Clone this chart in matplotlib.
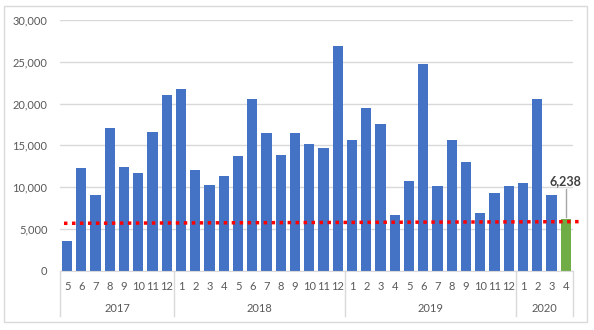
import matplotlib.pyplot as plt
from matplotlib.patches import Rectangle
import numpy as np

# monthly totals, May 2017 .. Apr 2020
years = ["2017", "2018", "2019", "2020"]
months_per_year = [8, 12, 12, 4]
months = ["5", "6", "7", "8", "9", "10", "11", "12",
          "1", "2", "3", "4", "5", "6", "7", "8", "9", "10", "11", "12",
          "1", "2", "3", "4", "5", "6", "7", "8", "9", "10", "11", "12",
          "1", "2", "3", "4"]
values = [3600, 12300, 9050, 17100, 12400, 11750, 16600, 21000,
          21800, 12000, 10250, 11350, 13750, 20600, 16450, 13900, 16450, 15200, 14700, 26850,
          15600, 19450, 17500, 6700, 10700, 24700, 10150, 15600, 12950, 6900, 9300, 10150,
          10550, 20550, 9050, 6238]
trend_start, trend_end = 5670, 5870

BLUE = "#4472C4"
GREEN = "#70AD47"
GRID = "#D9D9D9"
TXT = "#595959"

plt.rcParams['font.family'] = ['Lato', 'DejaVu Sans']

fig = plt.figure(figsize=(5.94, 3.30), dpi=100)
fig.patches.append(Rectangle((0.0067, 0.0242), 0.9815, 0.9576, transform=fig.transFigure,
                             fill=False, edgecolor=GRID, linewidth=1))
ax = fig.add_axes([0.101, 0.1797, 0.8636, 0.7597])

x = np.arange(len(values))
colors = [BLUE] * (len(values) - 1) + [GREEN]
ax.bar(x, values, width=0.72, color=colors, zorder=2)

# reference line
ax.plot([-0.22, 36.06], [trend_start, trend_end], color="#FF0000", linewidth=2.5,
        linestyle=(0, (1, 1.3)), dash_capstyle="butt", clip_on=False, zorder=3)

ax.set_xlim(-0.5, len(values) - 0.5)
ax.set_ylim(0, 30000)
ax.set_yticks(np.arange(0, 30001, 5000))
ax.set_yticklabels([f"{v:,}" for v in range(0, 30001, 5000)])
ax.yaxis.grid(True, color=GRID, linewidth=1)
ax.set_axisbelow(True)

ax.set_xticks(x)
ax.set_xticklabels(months)
ax.tick_params(axis="x", length=0, pad=7.5, labelsize=8, labelcolor=TXT)
ax.tick_params(axis="y", length=0, pad=9, labelsize=8, labelcolor=TXT)
for s in ["top", "right", "left"]:
    ax.spines[s].set_visible(False)
ax.spines["bottom"].set_color(GRID)

# year groups under the month labels
tr = ax.get_xaxis_transform()
edges = np.concatenate([[0], np.cumsum(months_per_year)]) - 0.5
for e in edges:
    ax.plot([e, e], [0, -0.181], transform=tr, color=GRID, linewidth=1, clip_on=False)
for i, yr in enumerate(years):
    ax.text((edges[i] + edges[i + 1]) / 2, -0.150, yr, transform=tr, ha="center",
            va="center", fontsize=8, color=TXT)

# value label on the latest month
last = len(values) - 1
ax.plot([last, last], [values[last] + 150, values[last] + 3500], color="#A6A6A6",
        linewidth=1, zorder=2)
ax.text(last, values[last] + 3800, f"{values[last]:,}", ha="center", va="bottom",
        fontsize=9, fontweight="bold", color="#404040")

fig.savefig("out.png", dpi=100)
